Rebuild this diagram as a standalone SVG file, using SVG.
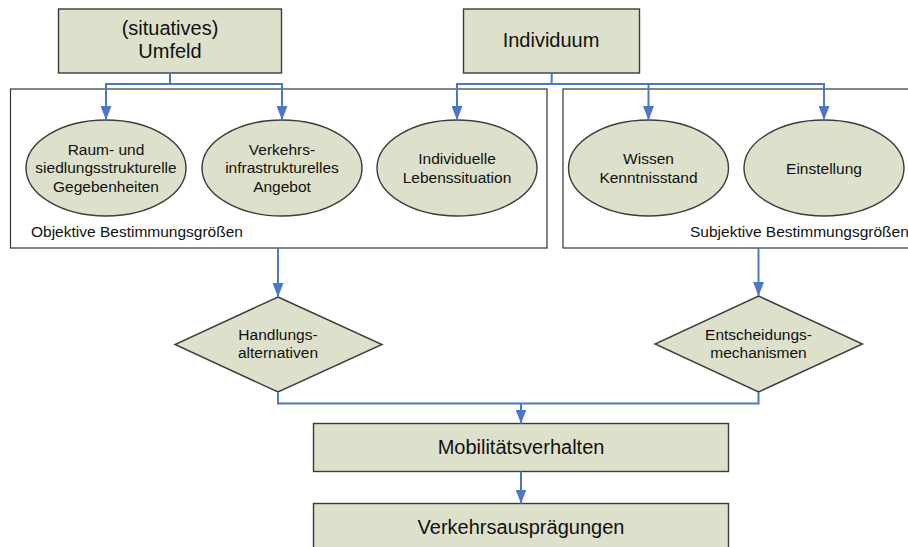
<svg xmlns="http://www.w3.org/2000/svg" width="908" height="547" viewBox="0 0 908 547">
<style>
.box{fill:#dde0ca;stroke:#3c3c3c;stroke-width:1.4}
.cont{fill:#fff;stroke:#333;stroke-width:1.2}
.con{fill:none;stroke:#4a78c4;stroke-width:2}
.arr{fill:none;stroke:#4a78c4;stroke-width:2;marker-end:url(#ah)}
text{font-family:"Liberation Sans",Arial,sans-serif;fill:#111;text-anchor:middle}
.big{font-size:20px}
.sm{font-size:15.5px}
.lbl{text-anchor:start;font-size:15.5px}
</style>
<defs>
<marker id="ah" markerUnits="userSpaceOnUse" markerWidth="14" markerHeight="11" refX="14" refY="5.5" orient="auto">
<path d="M0,0 L14,5.5 L0,11 z" fill="#4a78c4"/>
</marker>
</defs>
<g id="objektiv">
<rect class="cont" x="10.5" y="89" width="536.5" height="159"/>
<text class="lbl" x="31" y="237">Objektive Bestimmungsgrößen</text>
</g>
<g id="subjektiv">
<rect class="cont" x="563" y="89" width="360" height="159"/>
<text class="lbl" x="690" y="237">Subjektive Bestimmungsgrößen</text>
</g>
<g id="umfeld">
<rect class="box" x="58.5" y="9" width="223" height="64"/>
<text class="big" x="170" y="35">(situatives)</text>
<text class="big" x="170" y="58">Umfeld</text>
</g>
<g id="individuum">
<rect class="box" x="463.5" y="9" width="176" height="64"/>
<text class="big" x="551" y="47">Individuum</text>
</g>
<g id="raum">
<ellipse class="box" cx="106" cy="168" rx="80" ry="48"/>
<text class="sm" x="106" y="155">Raum- und</text>
<text class="sm" x="106" y="173">siedlungsstrukturelle</text>
<text class="sm" x="106" y="192">Gegebenheiten</text>
</g>
<g id="verkehrsinfra">
<ellipse class="box" cx="282" cy="168" rx="80" ry="48"/>
<text class="sm" x="282" y="155">Verkehrs-</text>
<text class="sm" x="282" y="173">infrastrukturelles</text>
<text class="sm" x="282" y="192">Angebot</text>
</g>
<g id="lebenssituation">
<ellipse class="box" cx="457" cy="168" rx="80" ry="48"/>
<text class="sm" x="457" y="163.5">Individuelle</text>
<text class="sm" x="457" y="182.5">Lebenssituation</text>
</g>
<g id="wissen">
<ellipse class="box" cx="648.5" cy="168" rx="80" ry="48"/>
<text class="sm" x="648.5" y="163.5">Wissen</text>
<text class="sm" x="648.5" y="182.5">Kenntnisstand</text>
</g>
<g id="einstellung">
<ellipse class="box" cx="824" cy="168" rx="80" ry="48"/>
<text class="sm" x="824" y="173.5">Einstellung</text>
</g>
<g id="handlung">
<polygon class="box" points="278,297 382,344.5 278,392 175,344.5"/>
<text class="sm" x="278" y="340">Handlungs-</text>
<text class="sm" x="278" y="357.5">alternativen</text>
</g>
<g id="entscheidung">
<polygon class="box" points="758.5,296 862.5,344 758.5,392 655,344"/>
<text class="sm" x="758.5" y="340">Entscheidungs-</text>
<text class="sm" x="758.5" y="357.5">mechanismen</text>
</g>
<g id="mobilitaet">
<rect class="box" x="313.5" y="423.5" width="415" height="48"/>
<text class="big" x="521" y="454">Mobilitätsverhalten</text>
</g>
<g id="verkehrsauspraegung">
<rect class="box" x="313.5" y="503.5" width="415" height="60"/>
<text class="big" x="521" y="533.5">Verkehrsausprägungen</text>
</g>
<g id="connectors">
<path class="arr" d="M170,73 V84 H106 V120"/>
<path class="arr" d="M170,84 H282 V120"/>
<path class="arr" d="M551.7,73 V84 H457 V120"/>
<path class="arr" d="M551.7,84 H824 V120"/>
<path class="arr" d="M648.5,84 V120"/>
<path class="arr" d="M278,248 V297"/>
<path class="arr" d="M758.5,248 V296"/>
<path class="con" d="M278,392 V403.5 H758.5 V392"/>
<path class="arr" d="M521,403.5 V423.5"/>
<path class="arr" d="M521,471.5 V503.5"/>
</g>
</svg>
